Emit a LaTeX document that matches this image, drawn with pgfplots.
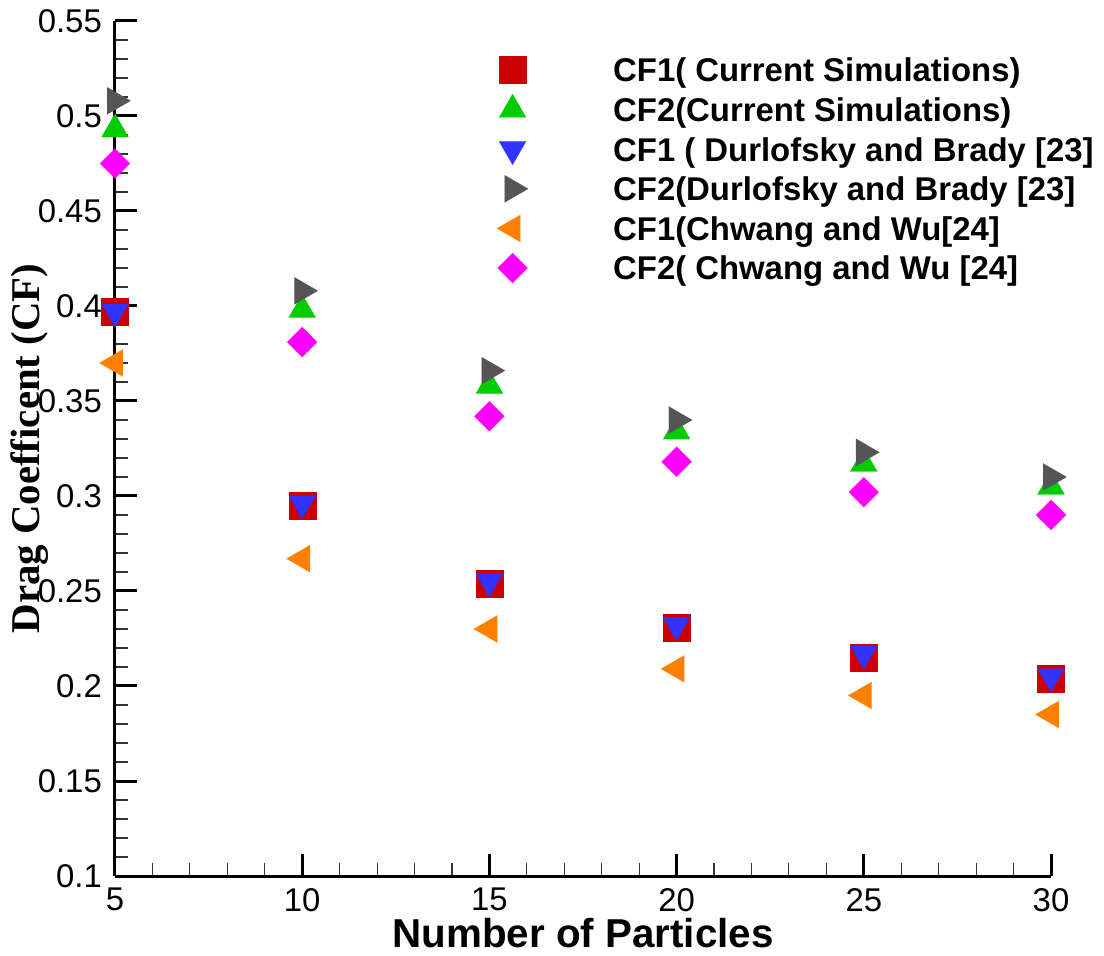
\documentclass[border=0pt]{standalone}
\usepackage{fontspec}
\setmainfont{Liberation Sans}
\newfontfamily\timesfont{Liberation Serif}
\usepackage{pgfplots}
\pgfplotsset{compat=1.18}
\definecolor{cRed}{HTML}{CC0000}
\definecolor{cGreen}{HTML}{00CC00}
\definecolor{cBlue}{HTML}{3333FF}
\definecolor{cGray}{HTML}{555555}
\definecolor{cOrange}{HTML}{FF8000}
\definecolor{cMag}{HTML}{FF00FF}
\pgfplotsset{
  mk/.style={only marks, legend image code/.code={\draw[##1] plot coordinates {(0bp,0bp)};}},
}
\begin{document}
\begin{tikzpicture}
\useasboundingbox (-115bp,-80bp) rectangle (989bp,876bp);
\begin{axis}[
  scale only axis,
  width=936bp, height=855bp,
  xmin=5, xmax=30, ymin=0.1, ymax=0.55,
  axis x line*=bottom, axis y line*=left,
  axis line style={-, line width=3bp, black},
  axis on top,
  clip=false,
  xtick={5,10,15,20,25,30},
  ytick={0.1,0.15,0.2,0.25,0.3,0.35,0.4,0.45,0.5,0.55},
  yticklabels={0.1,0.15,0.2,0.25,0.3,0.35,0.4,0.45,0.5,0.55},
  xticklabels={5,10,15,20,25,30},
  minor x tick num=4, minor y tick num=4,
  tick align=inside,
  major tick length=22bp, minor tick length=13bp,
  every tick/.style={black},
  major tick style={line width=3bp, black},
  minor tick style={line width=1.1bp, black!80},
  /pgf/number format/assume math mode=true,
  ticklabel style={font=\fontsize{33}{40}\selectfont},
  yticklabel style={anchor=east, inner sep=0pt, xshift=-13bp},
  xticklabel style={anchor=north, inner sep=0pt, yshift=-12bp},
  xlabel={Number of Particles},
  xlabel style={font=\fontsize{40.5}{48}\selectfont\bfseries, at={(axis description cs:0.5,-0.0842)}, anchor=base},
  ylabel={\timesfont\bfseries Drag Coefficent (CF)},
  ylabel style={font=\fontsize{41}{48}\selectfont, at={(axis description cs:-0.0908,0.5)}, anchor=center, rotate=0},
  legend cell align=left,
  legend style={draw=none, fill=none, at={(rel axis cs:0.4081,0.9616)}, anchor=north west,
    inner sep=0pt, outer sep=0pt,
    font=\fontsize{33}{40}\selectfont\bfseries,
    row sep=7.2bp, column sep=85bp,
    nodes={inner sep=0pt, text height=28bp, text depth=4.4bp}},
]
\addplot[mk, color=cRed, mark=square*, mark size=13.5bp, mark options={solid, fill=cRed, draw=cRed, line width=0.1bp}] coordinates {
(5,0.397) (10,0.295) (15,0.254) (20,0.231) (25,0.215) (30,0.204)};
\addlegendentry{CF1( Current Simulations)}
\addplot[mk, color=cGreen, mark=triangle*, mark size=15.6bp, mark options={solid, fill=cGreen, draw=cGreen, line width=0.1bp}] coordinates {
(5,0.493) (10,0.398) (15,0.358) (20,0.334) (25,0.317) (30,0.305)};
\addlegendentry{CF2(Current Simulations)}
\addplot[mk, color=cBlue, mark=triangle*, mark size=15.6bp, mark options={solid, fill=cBlue, draw=cBlue, line width=0.1bp, rotate=180}] coordinates {
(5,0.397) (10,0.296) (15,0.255) (20,0.232) (25,0.217) (30,0.205)};
\addlegendentry{CF1 ( Durlofsky and Brady [23]}
\addplot[mk, color=cGray, mark=triangle*, mark size=15.6bp, mark options={solid, fill=cGray, draw=cGray, line width=0.1bp, rotate=-90}] coordinates {
(5,0.508) (10,0.408) (15,0.366) (20,0.340) (25,0.323) (30,0.310)};
\addlegendentry{CF2(Durlofsky and Brady [23]}
\addplot[mk, color=cOrange, mark=triangle*, mark size=15.6bp, mark options={solid, fill=cOrange, draw=cOrange, line width=0.1bp, rotate=90}] coordinates {
(5,0.370) (10,0.267) (15,0.230) (20,0.209) (25,0.195) (30,0.185)};
\addlegendentry{CF1(Chwang and Wu[24]}
\addplot[mk, color=cMag, mark=square*, mark size=10.6bp, mark options={solid, fill=cMag, draw=cMag, line width=0.1bp, rotate=45}] coordinates {
(5,0.475) (10,0.381) (15,0.342) (20,0.318) (25,0.302) (30,0.290)};
\addlegendentry{CF2( Chwang and Wu [24]}
\end{axis}
\end{tikzpicture}
\end{document}
